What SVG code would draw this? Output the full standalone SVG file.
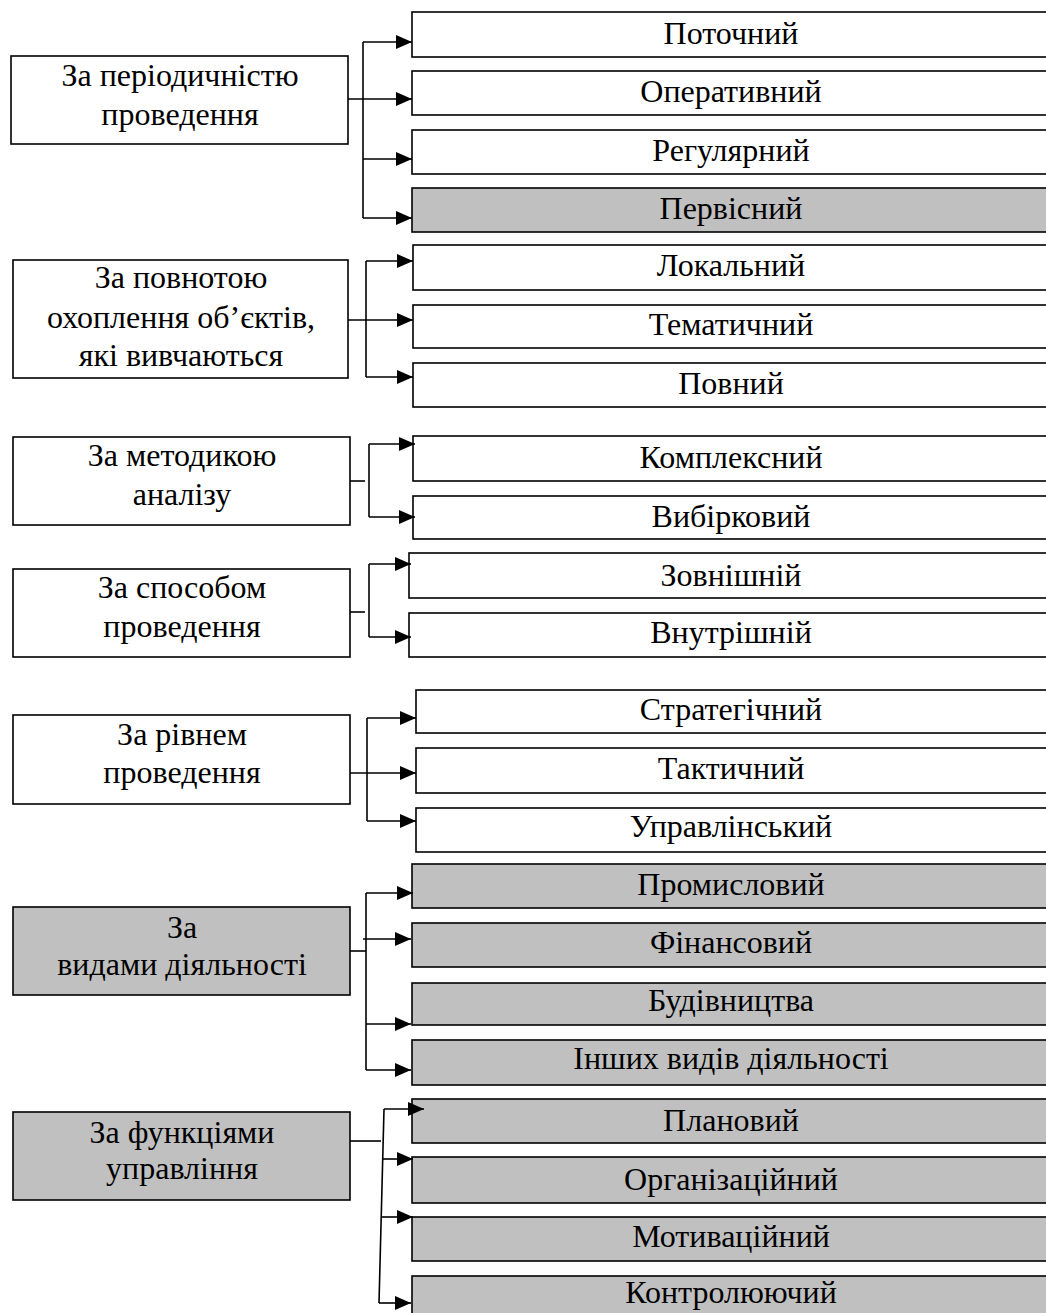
<svg xmlns="http://www.w3.org/2000/svg" width="1046" height="1313" viewBox="0 0 1046 1313">
<style>
.b{fill:#fff;stroke:#000;stroke-width:1.6}
.g{fill:#c0c0c0;stroke:#000;stroke-width:1.6}
.t{font-family:"Liberation Serif","Times New Roman",serif;font-size:32px;fill:#000;text-anchor:middle}
.c{fill:none;stroke:#000;stroke-width:1.6}
.a{fill:none;stroke:#000;stroke-width:1.6;marker-end:url(#ah)}
</style>
<defs>
<marker id="ah" markerWidth="17" markerHeight="14" refX="16" refY="7" orient="auto" markerUnits="userSpaceOnUse"><path d="M0,0 L16,7 L0,14 z" fill="#000"/></marker>
</defs>
<rect width="1046" height="1313" fill="#fff"/>

<!-- Group 1 -->
<g id="n-periodic"><rect class="b" x="11" y="56" width="337" height="88"/><text class="t" x="180" y="86">За періодичністю</text><text class="t" x="180" y="125">проведення</text></g>
<g id="n-potochnyi"><rect class="b" x="412" y="12" width="650" height="45"/><text class="t" x="731" y="44">Поточний</text></g>
<g id="n-operatyvnyi"><rect class="b" x="412" y="71" width="650" height="44"/><text class="t" x="731" y="102">Оперативний</text></g>
<g id="n-rehuliarnyi"><rect class="b" x="412" y="130" width="650" height="44"/><text class="t" x="731" y="161">Регулярний</text></g>
<g id="n-pervisnyi"><rect class="g" x="412" y="188" width="650" height="44"/><text class="t" x="731" y="219">Первісний</text></g>

<!-- Group 2 -->
<g id="n-povnota"><rect class="b" x="13" y="260" width="335" height="118"/><text class="t" x="181" y="288">За повнотою</text><text class="t" x="181" y="328">охоплення об’єктів,</text><text class="t" x="181" y="366">які вивчаються</text></g>
<g id="n-lokalnyi"><rect class="b" x="413" y="245" width="650" height="45"/><text class="t" x="731" y="276">Локальний</text></g>
<g id="n-tematychnyi"><rect class="b" x="413" y="305" width="650" height="43"/><text class="t" x="731" y="335">Тематичний</text></g>
<g id="n-povnyi"><rect class="b" x="413" y="363" width="650" height="44"/><text class="t" x="731" y="394">Повний</text></g>

<!-- Group 3 -->
<g id="n-metodyka"><rect class="b" x="13" y="437" width="337" height="88"/><text class="t" x="182" y="466">За методикою</text><text class="t" x="182" y="505">аналізу</text></g>
<g id="n-kompleksnyi"><rect class="b" x="413" y="436" width="650" height="45"/><text class="t" x="731" y="468">Комплексний</text></g>
<g id="n-vybirkovyi"><rect class="b" x="413" y="496" width="650" height="43"/><text class="t" x="731" y="527">Вибірковий</text></g>

<!-- Group 4 -->
<g id="n-sposib"><rect class="b" x="13" y="569" width="337" height="88"/><text class="t" x="182" y="598">За способом</text><text class="t" x="182" y="637">проведення</text></g>
<g id="n-zovnishnii"><rect class="b" x="409" y="553" width="650" height="45"/><text class="t" x="731" y="586">Зовнішній</text></g>
<g id="n-vnutrishnii"><rect class="b" x="409" y="613" width="650" height="44"/><text class="t" x="731" y="643">Внутрішній</text></g>

<!-- Group 5 -->
<g id="n-riven"><rect class="b" x="13" y="715" width="337" height="89"/><text class="t" x="182" y="745">За рівнем</text><text class="t" x="182" y="783">проведення</text></g>
<g id="n-stratehichnyi"><rect class="b" x="416" y="690" width="650" height="43"/><text class="t" x="731" y="720">Стратегічний</text></g>
<g id="n-taktychnyi"><rect class="b" x="416" y="748" width="650" height="45"/><text class="t" x="731" y="779">Тактичний</text></g>
<g id="n-upravlinskyi"><rect class="b" x="416" y="808" width="650" height="44"/><text class="t" x="731" y="837">Управлінський</text></g>

<!-- Group 6 -->
<g id="n-vydy"><rect class="g" x="13" y="907" width="337" height="88"/><text class="t" x="182" y="938">За</text><text class="t" x="182" y="975">видами діяльності</text></g>
<g id="n-promyslovyi"><rect class="g" x="412" y="864" width="650" height="44"/><text class="t" x="731" y="895">Промисловий</text></g>
<g id="n-finansovyi"><rect class="g" x="412" y="923" width="650" height="44"/><text class="t" x="731" y="953">Фінансовий</text></g>
<g id="n-budivnytstva"><rect class="g" x="412" y="983" width="650" height="42"/><text class="t" x="731" y="1011">Будівництва</text></g>
<g id="n-inshykh"><rect class="g" x="412" y="1040" width="650" height="45"/><text class="t" x="731" y="1069">Інших видів діяльності</text></g>

<!-- Group 7 -->
<g id="n-funktsii"><rect class="g" x="13" y="1112" width="337" height="88"/><text class="t" x="182" y="1143">За функціями</text><text class="t" x="182" y="1179">управління</text></g>
<g id="n-planovyi"><rect class="g" x="412" y="1099" width="650" height="44"/><text class="t" x="731" y="1131">Плановий</text></g>
<g id="n-orhanizatsiinyi"><rect class="g" x="412" y="1157" width="650" height="46"/><text class="t" x="731" y="1190">Організаційний</text></g>
<g id="n-motyvatsiinyi"><rect class="g" x="412" y="1217" width="650" height="44"/><text class="t" x="731" y="1247">Мотиваційний</text></g>
<g id="n-kontroliuiuchyi"><rect class="g" x="412" y="1276" width="650" height="50"/><text class="t" x="731" y="1303">Контролюючий</text></g>

<g id="connectors">
<!-- group 1 -->
<path class="c" d="M363,42 V218"/>
<path class="a" d="M363,42 H412"/>
<path class="a" d="M348,99 H412"/>
<path class="a" d="M363,159 H412"/>
<path class="a" d="M363,218 H412"/>
<!-- group 2 -->
<path class="c" d="M366,261 V377"/>
<path class="a" d="M366,261 H413"/>
<path class="a" d="M348,320 H413"/>
<path class="a" d="M366,377 H413"/>
<!-- group 3 -->
<path class="c" d="M350,481 H365"/>
<path class="c" d="M369,444 V517"/>
<path class="a" d="M369,444 H415"/>
<path class="a" d="M369,517 H415"/>
<!-- group 4 -->
<path class="c" d="M350,612 H365"/>
<path class="c" d="M369,564 V637"/>
<path class="a" d="M369,564 H411"/>
<path class="a" d="M369,637 H411"/>
<!-- group 5 -->
<path class="c" d="M367,718 V821"/>
<path class="a" d="M367,718 H416"/>
<path class="a" d="M350,773 H416"/>
<path class="a" d="M367,821 H416"/>
<!-- group 6 -->
<path class="c" d="M366,893 V1070"/>
<path class="c" d="M350,951 H366"/>
<path class="a" d="M366,893 H413"/>
<path class="a" d="M363,939 H411"/>
<path class="a" d="M366,1024 H411"/>
<path class="a" d="M366,1070 H411"/>
<!-- group 7 -->
<path class="c" d="M350,1141 H381"/>
<path class="c" d="M384,1109 L379,1303"/>
<path class="a" d="M384,1109 H424"/>
<path class="a" d="M383,1159 H413"/>
<path class="a" d="M381,1217 H413"/>
<path class="a" d="M379,1303 H411"/>
</g>
</svg>
